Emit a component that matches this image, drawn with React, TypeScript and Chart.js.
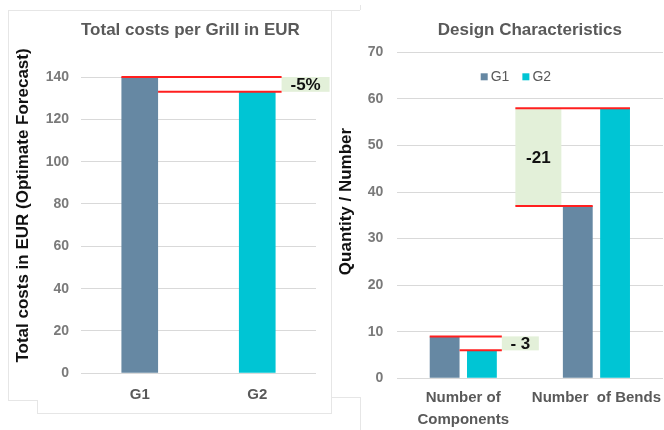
import React, { useEffect, useRef } from 'react';
import { Chart, registerables } from 'chart.js';

Chart.register(...registerables);

const FONT = "'Liberation Sans', Arial, sans-serif";

const COST_TITLE = 'Total costs per Grill in EUR';
const COST_AXIS_TITLE = 'Total costs in EUR (Optimate Forecast)';
const COST_CATEGORIES = ['G1', 'G2'];
const COST_VALUES = [140, 133];
const COST_DIFF_LABEL = '-5%';
const COST_Y_MAX = 140;
const COST_Y_STEP = 20;

const DESIGN_TITLE = 'Design Characteristics';
const DESIGN_AXIS_TITLE = 'Quantity / Number';
const DESIGN_CATEGORIES = [['Number of', 'Components'], 'Number  of Bends'];
const SERIES_NAMES = ['G1', 'G2'];
const G1_VALUES = [9, 37];
const G2_VALUES = [6, 58];
const DESIGN_DIFF_LABELS = ['- 3', '-21'];
const DESIGN_Y_MAX = 70;
const DESIGN_Y_STEP = 10;

const G1_COLOR = '#6688a3';
const G2_COLOR = '#00c5d4';
const RED = '#ff1f1f';
const GREEN_BOX = '#e3f0d9';
const TITLE_COLOR = '#595959';
const TICK_COLOR = '#7a7a7a';
const GRID_COLOR = '#d9d9d9';
const FRAME_COLOR = '#e6e6e6';

function barEdges(bar: any) {
  return { left: bar.x - bar.width / 2, right: bar.x + bar.width / 2, x: bar.x, y: bar.y };
}

function redLine(ctx: CanvasRenderingContext2D, x0: number, x1: number, y: number) {
  ctx.save();
  ctx.strokeStyle = RED;
  ctx.lineWidth = 2;
  ctx.beginPath();
  ctx.moveTo(x0, y);
  ctx.lineTo(x1, y);
  ctx.stroke();
  ctx.restore();
}

function diffBox(ctx: CanvasRenderingContext2D, x0: number, x1: number, y0: number, y1: number, text: string) {
  ctx.save();
  ctx.fillStyle = GREEN_BOX;
  ctx.fillRect(x0, Math.min(y0, y1), x1 - x0, Math.abs(y1 - y0));
  ctx.fillStyle = '#111';
  ctx.font = `bold 17px ${FONT}`;
  ctx.textAlign = 'center';
  ctx.textBaseline = 'middle';
  ctx.fillText(text, (x0 + x1) / 2, (y0 + y1) / 2 + 1);
  ctx.restore();
}

const yTitlePlugin = {
  id: 'yTitle',
  afterDraw(chart: any, _args: any, opts: any) {
    const ctx = chart.ctx;
    ctx.save();
    ctx.translate(opts.x, opts.y);
    ctx.rotate(-Math.PI / 2);
    ctx.font = `bold 17px ${FONT}`;
    ctx.fillStyle = '#111';
    ctx.textAlign = 'center';
    ctx.textBaseline = 'middle';
    ctx.fillText(opts.text, 0, 0);
    ctx.restore();
  },
};

const costAnnotation = {
  id: 'costAnnotation',
  afterDatasetsDraw(chart: any) {
    const ctx = chart.ctx;
    const meta = chart.getDatasetMeta(0);
    const b0 = barEdges(meta.data[0]);
    const b1 = barEdges(meta.data[1]);
    const y = chart.scales.y;
    const yTop = y.getPixelForValue(COST_VALUES[0]);
    const yBot = y.getPixelForValue(COST_VALUES[1]);
    const xEnd = b1.right + 6;
    diffBox(ctx, xEnd, xEnd + 48, yTop, yBot, COST_DIFF_LABEL);
    redLine(ctx, b0.left, xEnd, yTop);
    redLine(ctx, b0.right, xEnd, yBot);
  },
};

const designAnnotation = {
  id: 'designAnnotation',
  afterDatasetsDraw(chart: any) {
    const ctx = chart.ctx;
    const m0 = chart.getDatasetMeta(0);
    const m1 = chart.getDatasetMeta(1);
    const y = chart.scales.y;
    {
      const a = barEdges(m0.data[0]);
      const b = barEdges(m1.data[0]);
      const yTop = y.getPixelForValue(G1_VALUES[0]);
      const yBot = y.getPixelForValue(G2_VALUES[0]);
      const xEnd = b.right + 5;
      diffBox(ctx, xEnd, xEnd + 37, yTop, yBot, DESIGN_DIFF_LABELS[0]);
      redLine(ctx, a.left, xEnd, yTop);
      redLine(ctx, a.right, xEnd, yBot);
    }
    {
      const a = barEdges(m0.data[1]);
      const b = barEdges(m1.data[1]);
      const yTop = y.getPixelForValue(G2_VALUES[1]);
      const yBot = y.getPixelForValue(G1_VALUES[1]);
      const x1 = a.left - 1.5;
      const x0 = x1 - 46;
      diffBox(ctx, x0, x1, yTop, yBot, DESIGN_DIFF_LABELS[1]);
      redLine(ctx, x0, b.right, yTop);
      redLine(ctx, x0, a.right, yBot);
    }
  },
};

const legendPlugin = {
  id: 'innerLegend',
  afterDraw(chart: any) {
    const ctx = chart.ctx;
    const area = chart.chartArea;
    const cy = area.top + 24.5;
    let x = area.left + 84;
    ctx.save();
    ctx.font = `14px ${FONT}`;
    ctx.textBaseline = 'middle';
    ctx.textAlign = 'left';
    chart.data.datasets.forEach((ds: any) => {
      ctx.fillStyle = ds.backgroundColor;
      ctx.fillRect(x, cy - 3.5, 7, 7);
      ctx.fillStyle = TITLE_COLOR;
      ctx.fillText(ds.label, x + 10, cy + 0.5);
      x += 10 + ctx.measureText(ds.label).width + 13;
    });
    ctx.restore();
  },
};

function fixHeight(h: number) {
  return (s: any) => {
    s.height = h;
    s.paddingLeft = 0;
    s.paddingRight = 0;
  };
}

function fixWidth(w: number) {
  return (s: any) => {
    s.width = w;
    s.paddingTop = 0;
    s.paddingBottom = 0;
  };
}

function CostChart() {
  const ref = useRef<HTMLCanvasElement>(null);
  useEffect(() => {
    const chart = new Chart(ref.current!, {
      type: 'bar',
      data: {
        labels: COST_CATEGORIES,
        datasets: [
          {
            label: 'Total costs',
            data: COST_VALUES,
            backgroundColor: [G1_COLOR, G2_COLOR],
            barPercentage: 0.312,
            categoryPercentage: 1,
          },
        ],
      },
      options: {
        animation: false,
        responsive: true,
        maintainAspectRatio: false,
        layout: { padding: { left: 0, right: 16, top: 0, bottom: 0 } },
        plugins: {
          legend: { display: false },
          tooltip: { enabled: false },
          title: {
            display: true,
            text: COST_TITLE,
            fullSize: false,
            align: 'start',
            color: TITLE_COLOR,
            font: { family: FONT, size: 17, weight: 'bold', lineHeight: 1.2 },
            padding: { top: 19.8, bottom: 36.8 },
          },
          yTitle: { text: COST_AXIS_TITLE, x: 23, y: 205.5 },
        } as any,
        scales: {
          x: {
            grid: { display: false, drawTicks: false },
            border: { display: false },
            ticks: {
              color: TITLE_COLOR,
              font: { family: FONT, size: 15, weight: 'bold' },
              padding: 12.7,
            },
            afterFit: fixHeight(56.7),
          },
          y: {
            min: 0,
            max: COST_Y_MAX,
            grid: { color: GRID_COLOR, drawTicks: false, lineWidth: 1 },
            border: { display: false },
            ticks: {
              stepSize: COST_Y_STEP,
              color: TICK_COLOR,
              font: { family: FONT, size: 14, weight: 'bold' },
              padding: 12,
            },
            afterFit: fixWidth(81),
          },
        },
      },
      plugins: [yTitlePlugin, costAnnotation],
    });
    return () => chart.destroy();
  }, []);
  return <canvas ref={ref} />;
}

function DesignChart() {
  const ref = useRef<HTMLCanvasElement>(null);
  useEffect(() => {
    const chart = new Chart(ref.current!, {
      type: 'bar',
      data: {
        labels: DESIGN_CATEGORIES as any,
        datasets: [
          {
            label: SERIES_NAMES[0],
            data: G1_VALUES,
            backgroundColor: G1_COLOR,
            barPercentage: 0.8,
            categoryPercentage: 0.56,
          },
          {
            label: SERIES_NAMES[1],
            data: G2_VALUES,
            backgroundColor: G2_COLOR,
            barPercentage: 0.8,
            categoryPercentage: 0.56,
          },
        ],
      },
      options: {
        animation: false,
        responsive: true,
        maintainAspectRatio: false,
        layout: { padding: { left: 0, right: 1, top: 0, bottom: 0 } },
        plugins: {
          legend: { display: false },
          tooltip: { enabled: false },
          title: {
            display: true,
            text: DESIGN_TITLE,
            fullSize: false,
            align: 'center',
            color: TITLE_COLOR,
            font: { family: FONT, size: 17, weight: 'bold', lineHeight: 1.2 },
            padding: { top: 19.8, bottom: 12.1 },
          },
          yTitle: { text: DESIGN_AXIS_TITLE, x: 14.7, y: 201.5 },
        } as any,
        scales: {
          x: {
            grid: { display: false, drawTicks: false },
            border: { display: false },
            ticks: {
              color: TITLE_COLOR,
              font: { family: FONT, size: 15, weight: 'bold', lineHeight: 1.47 },
              padding: 8.7,
              autoSkip: false,
              maxRotation: 0,
            },
            afterFit: fixHeight(51.7),
          },
          y: {
            min: 0,
            max: DESIGN_Y_MAX,
            grid: { color: GRID_COLOR, drawTicks: false, lineWidth: 1 },
            border: { display: false },
            ticks: {
              stepSize: DESIGN_Y_STEP,
              color: TICK_COLOR,
              font: { family: FONT, size: 14, weight: 'bold' },
              padding: 13.4,
            },
            afterFit: fixWidth(64.7),
          },
        },
      },
      plugins: [yTitlePlugin, designAnnotation, legendPlugin],
    });
    return () => chart.destroy();
  }, []);
  return <canvas ref={ref} />;
}

const FRAME_LINES = [
  { left: 8, top: 10, width: 352, height: 1 },
  { left: 8, top: 10, width: 1, height: 390 },
  { left: 8, top: 400, width: 29, height: 1 },
  { left: 37, top: 400, width: 1, height: 13 },
  { left: 37, top: 413, width: 294, height: 1 },
  { left: 331, top: 10, width: 1, height: 404 },
  { left: 331, top: 397, width: 30, height: 1 },
  { left: 360, top: 397, width: 1, height: 33 },
  { left: 360, top: 5, width: 1, height: 5 },
];

export default function App() {
  return (
    <div
      style={{
        position: 'fixed',
        left: 0,
        top: 0,
        width: 664,
        height: 430,
        background: '#fff',
        overflow: 'hidden',
      }}
    >
      {FRAME_LINES.map((l, i) => (
        <div
          key={i}
          style={{ position: 'absolute', background: FRAME_COLOR, ...l }}
        />
      ))}
      <div style={{ position: 'absolute', left: 0, top: 0, width: 332, height: 430 }}>
        <CostChart />
      </div>
      <div style={{ position: 'absolute', left: 332, top: 0, width: 332, height: 430 }}>
        <DesignChart />
      </div>
    </div>
  );
}
